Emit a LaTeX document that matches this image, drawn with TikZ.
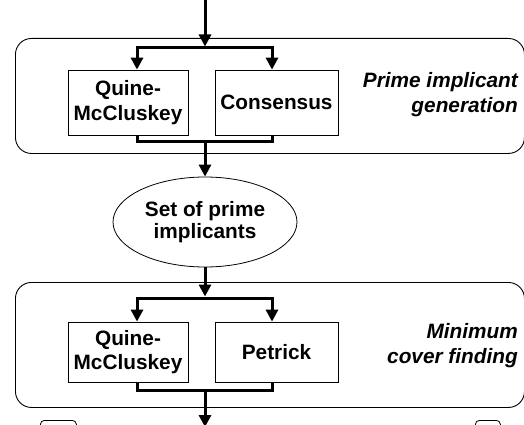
\documentclass[tikz,border=0pt]{standalone}
\usepackage{fontspec}
\setmainfont{Liberation Sans}
\usetikzlibrary{arrows.meta,shapes.geometric}
\begin{document}
\begin{tikzpicture}[x=1pt,y=-1pt,
  stage/.style={draw,line width=0.9pt,rounded corners=16pt,anchor=north west,inner sep=0pt},
  algo/.style={draw,line width=0.8pt,minimum width=120pt,align=center,inner sep=0pt,
    font=\fontsize{20.8}{24.5}\selectfont\bfseries},
  set/.style={draw,line width=0.8pt,ellipse,minimum width=184pt,minimum height=90pt,inner sep=0pt,align=center,
    font=\fontsize{20.8}{22}\selectfont\bfseries},
  lbl/.style={anchor=east,align=right,inner sep=0pt,font=\fontsize{20.8}{25}\selectfont\bfseries\itshape},
  bus/.style={line width=3pt},
  flow/.style={line width=3pt,-{Triangle[length=12pt,width=12pt]}},
  frag/.style={draw,line width=0.8pt,rounded corners=4pt,anchor=north west,inner sep=0pt}]
\useasboundingbox (0,0) rectangle (524,425);
\clip (0,0) rectangle (524,425);
% stage frames
\node[stage,minimum width=509pt,minimum height=115pt] (stage1) at (15,38) {};
\node[stage,minimum width=509pt,minimum height=125pt] (stage2) at (15,282) {};
\node[lbl] (lbl1) at (518,95) {Prime implicant\\generation};
\node[lbl] (lbl2) at (518,346) {Minimum\\cover finding};
% algorithm boxes
\node[algo,minimum height=65pt] (qm1) at (128,102.5) {Quine-\\McCluskey};
\node[algo,minimum height=65pt,minimum width=123pt] (cons) at (276.5,102.5) {Consensus};
\node[set] (pi) at (205,222) {Set of prime\\implicants};
\node[algo,minimum height=60pt] (qm2) at (128,352) {Quine-\\McCluskey};
\node[algo,minimum height=60pt,minimum width=123pt] (pet) at (276.5,352) {Petrick};
% fragments of the next frame
\node[frag,minimum width=36pt,minimum height=20pt] (fragl) at (40,420) {};
\node[frag,minimum width=25pt,minimum height=20pt] (fragr) at (475,420) {};
% coordinates
\coordinate (in) at (205,0);
\coordinate (s1) at (205,48);
\coordinate (s1l) at (137,48);
\coordinate (s1r) at (272,48);
\coordinate (j1) at (205,143);
\coordinate (j1l) at (137,143);
\coordinate (j1r) at (272,143);
\coordinate (s2) at (205,298);
\coordinate (s2l) at (137,298);
\coordinate (s2r) at (272,298);
\coordinate (j2) at (205,392);
\coordinate (j2l) at (137,392);
\coordinate (j2r) at (272,392);
\coordinate (out) at (205,425);
% top stage connectors
\draw[flow,shorten >=1.5pt] (in) -- (s1);
\draw[bus] ([xshift=-1.5pt]s1l) -- ([xshift=1.5pt]s1r);
\draw[flow] ([yshift=-1.5pt]s1l) -- (s1l |- qm1.north);
\draw[flow] ([yshift=-1.5pt]s1r) -- (s1r |- cons.north);
\draw[bus] (j1l |- qm1.south) -- ([yshift=1.5pt]j1l) -- ([yshift=1.5pt]j1r) -- (j1r |- cons.south);
\draw[flow] (j1) -- (pi.north);
% bottom stage connectors
\draw[flow,shorten >=1.5pt] (pi.south) -- (s2);
\draw[bus] ([xshift=-1.5pt]s2l) -- ([xshift=1.5pt]s2r);
\draw[flow] ([yshift=-1.5pt]s2l) -- (s2l |- qm2.north);
\draw[flow] ([yshift=-1.5pt]s2r) -- (s2r |- pet.north);
\draw[bus] (j2l |- qm2.south) -- ([yshift=1.5pt]j2l) -- ([yshift=1.5pt]j2r) -- (j2r |- pet.south);
\draw[flow,shorten >=-2pt] (j2) -- (out);
\end{tikzpicture}
\end{document}
